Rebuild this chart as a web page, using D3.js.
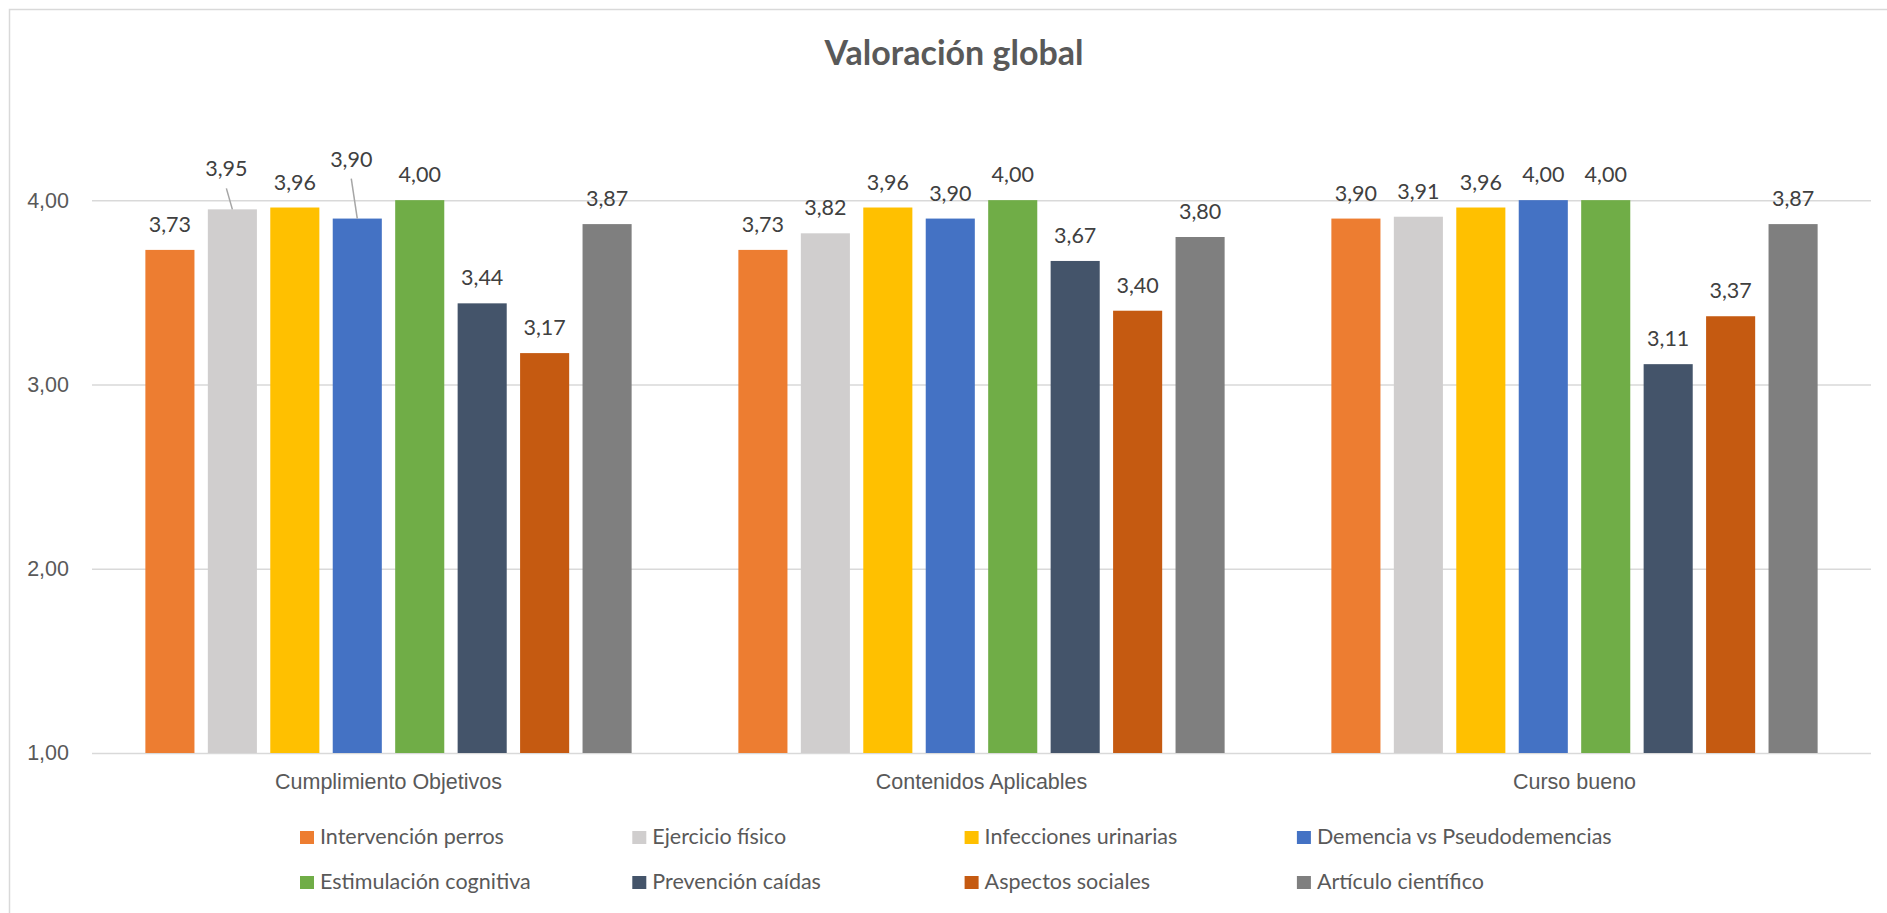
<!DOCTYPE html>
<html>
<head>
<meta charset="utf-8">
<script src="https://cdn.jsdelivr.net/npm/d3@7"></script>
<style>
  body { margin: 0; background: #fff; }
  svg { display: block; font-family: Lato, "Open Sans", sans-serif; }
</style>
</head>
<body>
<svg id="chart" width="1887" height="913"></svg>
<script>
// data
const categories = ["Cumplimiento Objetivos", "Contenidos Aplicables", "Curso bueno"];
const seriesNames = ["Intervención perros", "Ejercicio físico", "Infecciones urinarias", "Demencia vs Pseudodemencias",
  "Estimulación cognitiva", "Prevención caídas", "Aspectos sociales", "Artículo científico"];
const seriesColors = ["#ED7D31", "#D0CECE", "#FFC000", "#4472C4", "#70AD47", "#44546A", "#C55A11", "#7F7F7F"];
const cumplimiento = [3.73, 3.95, 3.96, 3.90, 4.00, 3.44, 3.17, 3.87];
const contenidos = [3.73, 3.82, 3.96, 3.90, 4.00, 3.67, 3.40, 3.80];
const cursoBueno = [3.90, 3.91, 3.96, 4.00, 4.00, 3.11, 3.37, 3.87];
const yTicks = [1, 2, 3, 4];

const values = [cumplimiento, contenidos, cursoBueno];

// labels moved by hand (with leader line) : [category, series, dx, dy]
const movedLabels = [[0, 1, -6, -15], [0, 3, -6, -34]];

const svg = d3.select("#chart");
const W = 1887, H = 913;
const plotLeft = 92, plotRight = 1871, plotBottom = 753, plotTop = 108;

const fmt = d3.formatLocale({ decimal: ",", thousands: ".", grouping: [3], currency: ["", "€"] }).format(".2f");

// frame
svg.append("rect")
  .attr("x", 9.5).attr("y", 9.5)
  .attr("width", W).attr("height", H)
  .attr("fill", "#fff").attr("stroke", "#d9d9d9").attr("stroke-width", 1.5);

svg.append("text")
  .attr("x", 954).attr("y", 65)
  .attr("text-anchor", "middle")
  .attr("font-size", 34).attr("font-weight", "bold")
  .attr("fill", "#595959")
  .text("Valoración global");

const y = d3.scaleLinear().domain([1, 4.5]).range([plotBottom, plotTop]);
const x0 = d3.scaleBand().domain(categories).range([plotLeft, plotRight]).paddingInner(0.18).paddingOuter(0.09);
const x1 = d3.scaleBand().domain(d3.range(seriesNames.length)).range([0, x0.bandwidth()]).paddingInner(0.214);

// y axis + gridlines
const yAxis = svg.append("g")
  .attr("transform", `translate(${plotLeft},0)`)
  .call(d3.axisLeft(y).tickValues(yTicks).tickFormat(fmt)
    .tickSizeInner(-(plotRight - plotLeft)).tickSizeOuter(0).tickPadding(23));
yAxis.select(".domain").remove();
yAxis.selectAll("line").attr("stroke", "#d9d9d9").attr("stroke-width", 1.5);
yAxis.selectAll("text").attr("font-size", 21.5).attr("fill", "#595959").attr("font-family", null);

// x axis labels
const xAxis = svg.append("g")
  .attr("transform", `translate(0,${plotBottom})`)
  .call(d3.axisBottom(x0).tickSize(0).tickPadding(21));
xAxis.select(".domain").remove();
xAxis.selectAll("text").attr("font-size", 21.5).attr("fill", "#595959").attr("font-family", null);

// bars
const groups = svg.append("g").selectAll("g")
  .data(categories)
  .join("g")
  .attr("transform", d => `translate(${x0(d)},0)`);

groups.selectAll("rect")
  .data((d, ci) => values[ci].map((v, si) => ({ ci, si, v })))
  .join("rect")
  .attr("x", d => x1(d.si))
  .attr("y", d => y(d.v))
  .attr("width", x1.bandwidth())
  .attr("height", d => y(1) - y(d.v))
  .attr("fill", d => seriesColors[d.si]);

// value labels
function labelPos(d) {
  const m = movedLabels.find(a => a[0] === d.ci && a[1] === d.si);
  const cx = x0(categories[d.ci]) + x1(d.si) + x1.bandwidth() / 2;
  return { x: cx + (m ? m[2] : 0), y: y(d.v) - 18 + (m ? m[3] : 0), moved: !!m, cx };
}

const allPoints = values.flatMap((arr, ci) => arr.map((v, si) => ({ ci, si, v })));

svg.append("g").selectAll("line")
  .data(allPoints.filter(d => labelPos(d).moved))
  .join("line")
  .attr("x1", d => labelPos(d).x)
  .attr("y1", d => labelPos(d).y + 12)
  .attr("x2", d => labelPos(d).cx)
  .attr("y2", d => y(d.v))
  .attr("stroke", "#a6a6a6").attr("stroke-width", 1.5);

svg.append("g").selectAll("text")
  .data(allPoints)
  .join("text")
  .attr("x", d => labelPos(d).x)
  .attr("y", d => labelPos(d).y)
  .attr("text-anchor", "middle")
  .attr("font-size", 21.5)
  .attr("fill", "#404040")
  .text(d => fmt(d.v));

// legend
const legend = svg.append("g").selectAll("g")
  .data(seriesNames)
  .join("g")
  .attr("transform", (d, i) => `translate(${300 + (i % 4) * 332.3},${844 + Math.floor(i / 4) * 45})`);

legend.append("rect")
  .attr("x", 0).attr("y", -13)
  .attr("width", 14).attr("height", 13)
  .attr("fill", (d, i) => seriesColors[i]);

legend.append("text")
  .attr("x", 20).attr("y", 0)
  .attr("font-size", 21.5)
  .attr("fill", "#595959")
  .text(d => d);
</script>
</body>
</html>
